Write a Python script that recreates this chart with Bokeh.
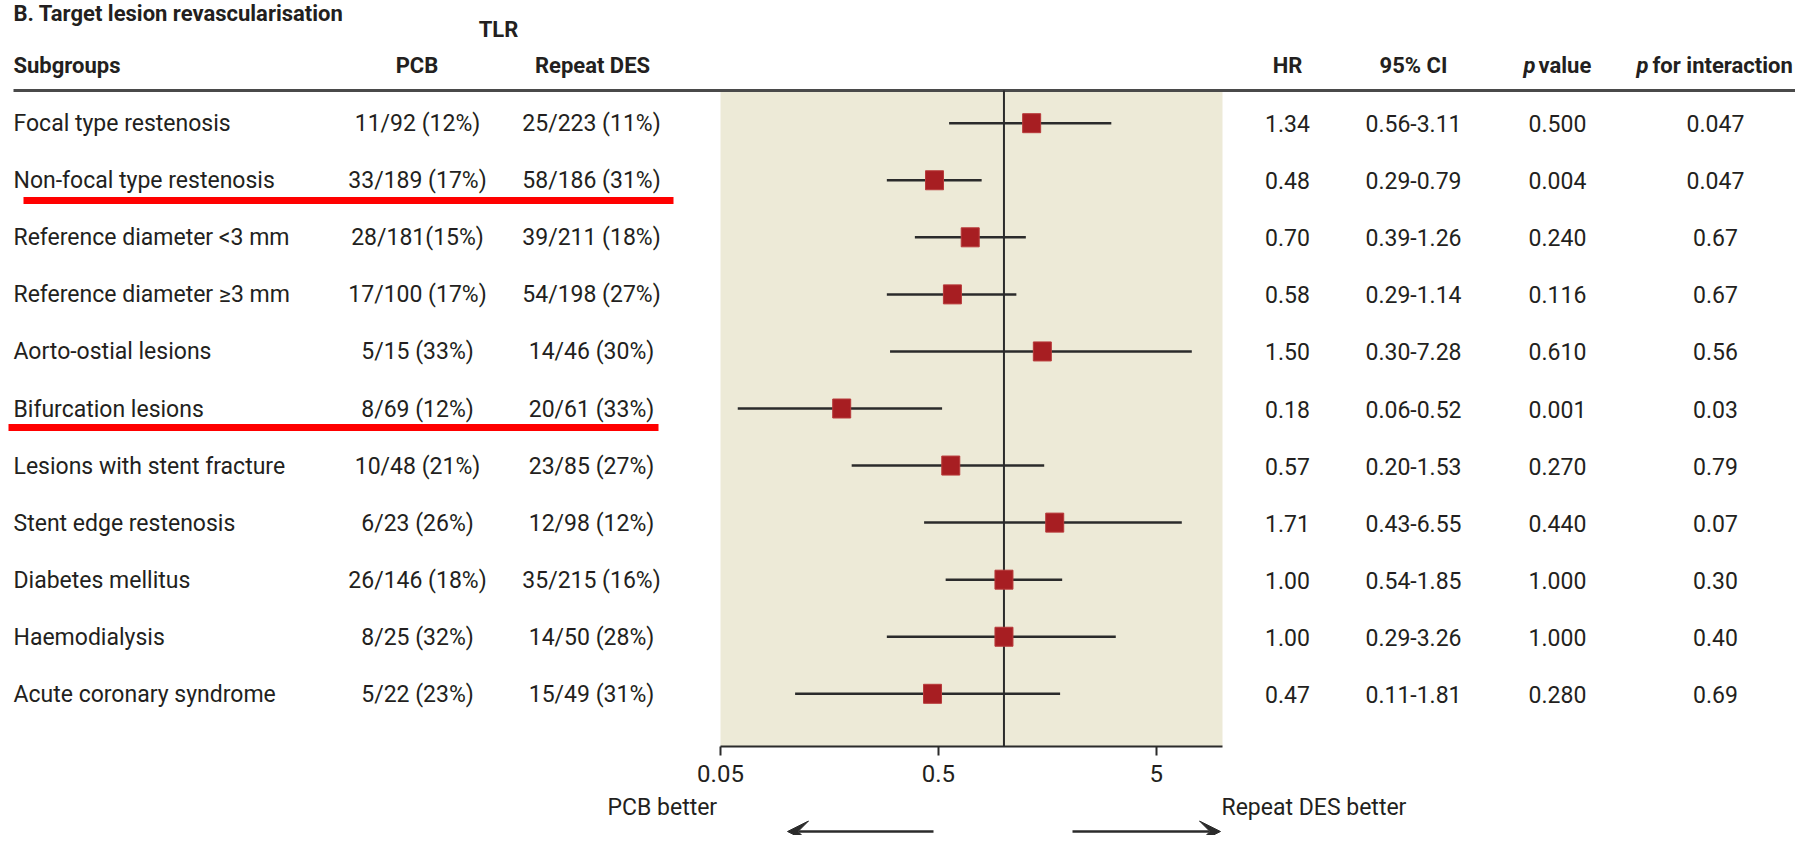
import math
from bokeh.plotting import figure
from bokeh.models import Range1d, LogScale, LogAxis, FixedTicker, NumeralTickFormatter, Arrow, VeeHead
from bokeh.core.properties import value
from bokeh.embed import file_html
from bokeh.resources import INLINE

# ---------------- data ----------------
subgroups = ["Focal type restenosis", "Non-focal  type restenosis", "Reference diameter <3 mm",
             "Reference diameter \u22653 mm", "Aorto-ostial lesions", "Bifurcation lesions",
             "Lesions with stent fracture", "Stent edge restenosis", "Diabetes mellitus",
             "Haemodialysis", "Acute coronary syndrome"]
pcb = ["11/92 (12%)", "33/189 (17%)", "28/181(15%)", "17/100 (17%)", "5/15 (33%)", "8/69 (12%)",
       "10/48 (21%)", "6/23 (26%)", "26/146 (18%)", "8/25 (32%)", "5/22 (23%)"]
repeat_des = ["25/223 (11%)", "58/186 (31%)", "39/211 (18%)", "54/198 (27%)", "14/46 (30%)",
              "20/61 (33%)", "23/85 (27%)", "12/98 (12%)", "35/215 (16%)", "14/50 (28%)", "15/49 (31%)"]
hr = [1.34, 0.48, 0.70, 0.58, 1.50, 0.18, 0.57, 1.71, 1.00, 1.00, 0.47]
ci_low = [0.56, 0.29, 0.39, 0.29, 0.30, 0.06, 0.20, 0.43, 0.54, 0.29, 0.11]
ci_high = [3.11, 0.79, 1.26, 1.14, 7.28, 0.52, 1.53, 6.55, 1.85, 3.26, 1.81]
p_value = ["0.500", "0.004", "0.240", "0.116", "0.610", "0.001", "0.270", "0.440", "1.000", "1.000", "0.280"]
p_interaction = ["0.047", "0.047", "0.67", "0.67", "0.56", "0.03", "0.79", "0.07", "0.30", "0.40", "0.69"]
underlined = ["Non-focal  type restenosis", "Bifurcation lesions"]
x_ticks = [0.05, 0.5, 5]
hr_axis_range = (0.05, 10.07)

# ---------------- layout / style ----------------
FONT = "Roboto"
TXT = "#231f20"
DARK = "#2b2b2b"
W, H = 1795, 835
ROW0, STEP = 122.7, 57.06
TSHIFT = 7  # text baseline correction (px)


def ry(s):
    """pixel row from the top -> row units"""
    return 1 + (s - ROW0) / STEP


def ty_(s):
    return ry(s - TSHIFT)


BASE = (7.5 - TSHIFT) / STEP
rows = list(range(1, len(subgroups) + 1))
PANEL_L, PANEL_R = 720, 1222
dec = (PANEL_R - PANEL_L) / math.log10(hr_axis_range[1] / hr_axis_range[0])
hr_lo = hr_axis_range[0] * 10 ** ((0 - PANEL_L) / dec)
hr_hi = hr_axis_range[0] * 10 ** ((W - PANEL_L) / dec)

p = figure(width=W, height=H, x_range=Range1d(0, W), y_range=Range1d(ry(H), ry(0)),
           output_backend="svg", toolbar_location=None, x_axis_location=None, y_axis_location=None,
           min_border=0, extra_x_ranges={"hr": Range1d(hr_lo, hr_hi)}, extra_x_scales={"hr": LogScale()})
p.outline_line_color = None
p.background_fill_color = "white"
p.xgrid.visible = False
p.ygrid.visible = False


def txt(x, y, t, size="23px", align="left", style="normal"):
    p.text(x=x, y=y, text=t, text_font=value(FONT), text_font_size=size, text_color=TXT,
           text_align=align, text_baseline="alphabetic", text_font_style=style)


# shaded panel
p.quad(left=hr_axis_range[0], right=hr_axis_range[1], top=ry(91), bottom=ry(745.7), x_range_name="hr",
       fill_color="#EDEAD7", line_color=None)

# header rule
p.segment(x0=13, x1=1795, y0=ry(90), y1=ry(90), line_color="#4a4a4a", line_width=3)

# reference line at HR = 1
p.segment(x0=1, x1=1, y0=ry(90), y1=ry(745.7), x_range_name="hr", line_color=DARK, line_width=2)

# CI lines and markers
p.segment(x0=ci_low, x1=ci_high, y0=rows, y1=rows, x_range_name="hr", line_color=DARK, line_width=2.5)
p.rect(x=hr, y=rows, width=18, height=19, width_units="screen", height_units="screen", x_range_name="hr",
       fill_color="#A71E22", line_color="#B83A3A", line_width=1)

# axis
ax = LogAxis(x_range_name="hr", fixed_location=ry(745.7), bounds=hr_axis_range,
             ticker=FixedTicker(ticks=x_ticks), formatter=NumeralTickFormatter(format="0.[00]"))
ax.axis_line_color = DARK
ax.axis_line_width = 2
ax.major_tick_line_color = DARK
ax.major_tick_line_width = 2
ax.major_tick_out = 9
ax.major_tick_in = 0
ax.minor_tick_line_color = None
ax.major_label_text_font = FONT
ax.major_label_text_font_size = "24px"
ax.major_label_text_color = TXT
ax.major_label_standoff = 10
p.add_layout(ax, "below")

# direction arrows
for xs, xe in [(933, 787), (1072, 1220)]:
    p.add_layout(Arrow(end=VeeHead(size=21, fill_color=DARK, line_color=DARK, line_width=1),
                       x_start=xs, x_end=xe, y_start=ry(831), y_end=ry(831),
                       line_color=DARK, line_width=2.5))
txt(607, ty_(814), ["PCB better"])
txt(1221, ty_(814), ["Repeat DES better"])

# red underlines
p.segment(x0=[23, 8], x1=[673, 658], y0=[ry(200), ry(427)], y1=[ry(200), ry(427)],
          line_color="#FF0000", line_width=7)

# titles / headers
HS = "22px"
txt(13, ty_(20), ["B. Target lesion revascularisation"], size=HS, style="bold")
txt(498, ty_(36), ["TLR"], size=HS, align="center", style="bold")
hb = ty_(72)
txt(13, hb, ["Subgroups"], size=HS, style="bold")
txt(416.5, hb, ["PCB"], size=HS, align="center", style="bold")
txt(592, hb, ["Repeat DES"], size=HS, align="center", style="bold")
txt(1287, hb, ["HR"], size=HS, align="center", style="bold")
txt(1413, hb, ["95% CI"], size=HS, align="center", style="bold")
txt(1523, hb, ["p"], size=HS, style="bold italic")
txt(1538, hb, ["value"], size=HS, style="bold")
txt(1636, hb, ["p"], size=HS, style="bold italic")
txt(1652, hb, ["for interaction"], size=HS, style="bold")

# table body
ty = [r + BASE for r in rows]
txt(13, ty, subgroups)
txt(417, ty, pcb, align="center")
txt(591, ty, repeat_des, align="center")
txt(1287, ty, [f"{v:.2f}" for v in hr], align="center")
txt(1413, ty, [f"{a:.2f}-{b:.2f}" for a, b in zip(ci_low, ci_high)], align="center")
txt(1557, ty, p_value, align="center")
txt(1715, ty, p_interaction, align="center")

open("out.html", "w").write(file_html(p, INLINE))
